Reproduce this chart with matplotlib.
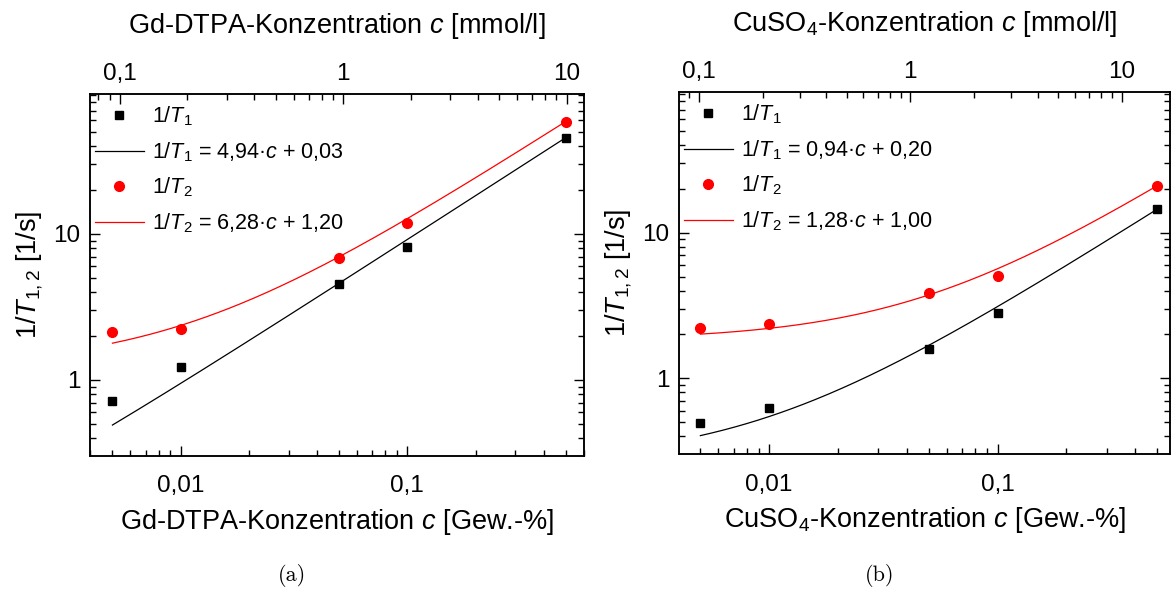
import matplotlib
matplotlib.use("Agg")
import matplotlib.pyplot as plt
import numpy as np
from matplotlib.ticker import FuncFormatter, LogLocator, NullFormatter

plt.rcParams['font.family'] = ['Liberation Sans', 'DejaVu Sans']
plt.rcParams['mathtext.fontset'] = 'custom'
plt.rcParams['mathtext.rm'] = 'Liberation Sans'
plt.rcParams['mathtext.it'] = 'Liberation Sans:italic'
plt.rcParams['mathtext.bf'] = 'Liberation Sans:bold'

# ---------------- data ----------------
conc_gew = [0.005, 0.01, 0.05, 0.1, 0.5]          # Gew.-%

gd_r1 = [0.72, 1.22, 4.55, 8.15, 45.7]             # 1/T1 [1/s]
gd_r2 = [2.14, 2.24, 6.89, 11.8, 58.7]             # 1/T2 [1/s]
cu_r1 = [0.493, 0.622, 1.60, 2.79, 14.5]
cu_r2 = [2.22, 2.35, 3.87, 5.05, 21.0]

# drawn fit curves (slope per Gew.-%, intercept), as plotted
gd_fit1 = (91.3, 0.035)
gd_fit2 = (115.4, 1.21)
cu_fit1 = (28.48, 0.262)
cu_fit2 = (38.36, 1.82)

gd_labels = ['1/$T_1$', '1/$T_1$ = 4,94·$c$ + 0,03',
             '1/$T_2$', '1/$T_2$ = 6,28·$c$ + 1,20']
cu_labels = ['1/$T_1$', '1/$T_1$ = 0,94·$c$ + 0,20',
             '1/$T_2$', '1/$T_2$ = 1,28·$c$ + 1,00']

gd_bottom_label = 'Gd-DTPA-Konzentration $c$ [Gew.-%]'
gd_top_label = 'Gd-DTPA-Konzentration $c$ [mmol/l]'
cu_bottom_label = 'CuSO$_4$-Konzentration $c$ [Gew.-%]'
cu_top_label = 'CuSO$_4$-Konzentration $c$ [mmol/l]'
ylabel = '1/$T_{1,2}$ [1/s]'

# ---------------- figure ----------------
W, H = 1171, 590
fig = plt.figure(figsize=(W / 100, H / 100), dpi=100)

FS_LAB = 19.5
FS_TICK = 17.5
LFS = 15.5


def comma_fmt(v, pos):
    s = f'{v:g}'
    return s.replace('.', ',')


def make_panel(rect, r1, r2, fit1, fit2, labels, blabel, tlabel,
               xlim, tlim, ylim, caption, cap_x):
    ax = fig.add_axes(rect)
    ax.set_xscale('log')
    ax.set_yscale('log')
    x = np.array(conc_gew)
    xf = np.geomspace(x[0], x[-1], 200)
    ax.plot(x, r1, 's', color='black', ms=6, label=labels[0], zorder=3)
    ax.plot(xf, fit1[0] * xf + fit1[1], '-', color='black', lw=0.9,
            label=labels[1])
    ax.plot(x, r2, 'o', color='#ff0000', ms=7, label=labels[2], zorder=3)
    ax.plot(xf, fit2[0] * xf + fit2[1], '-', color='#ff0000', lw=0.9,
            label=labels[3])
    ax.set_xlim(*xlim)
    ax.set_ylim(*ylim)
    for sp in ax.spines.values():
        sp.set_linewidth(1.1)
    ax.xaxis.set_major_formatter(FuncFormatter(comma_fmt))
    ax.xaxis.set_minor_formatter(NullFormatter())
    ax.yaxis.set_major_formatter(FuncFormatter(comma_fmt))
    ax.yaxis.set_minor_formatter(NullFormatter())
    ax.xaxis.set_minor_locator(LogLocator(subs=np.arange(2, 10)))
    ax.yaxis.set_minor_locator(LogLocator(subs=np.arange(2, 10)))
    ax.tick_params(which='both', direction='in', top=False, right=True,
                   labelsize=FS_TICK, width=1.0)
    ax.tick_params(which='major', length=7, pad=7)
    ax.tick_params(which='minor', length=4)
    ax.tick_params(axis='x', which='major', pad=14)
    ax.set_xlabel(blabel, fontsize=FS_LAB, labelpad=7)
    ax.set_ylabel(ylabel, fontsize=FS_LAB, labelpad=6)

    ax2 = ax.twiny()
    ax2.set_xscale('log')
    ax2.set_xlim(*tlim)
    ax2.xaxis.set_major_formatter(FuncFormatter(comma_fmt))
    ax2.xaxis.set_minor_formatter(NullFormatter())
    ax2.xaxis.set_minor_locator(LogLocator(subs=np.arange(2, 10)))
    ax2.tick_params(which='both', direction='in', labelsize=FS_TICK, width=1.0)
    ax2.tick_params(which='major', length=7, pad=7)
    ax2.tick_params(which='minor', length=4)
    ax2.set_xlabel(tlabel, fontsize=FS_LAB, labelpad=21)
    for sp in ax2.spines.values():
        sp.set_linewidth(1.1)

    ax.legend(loc='upper left', bbox_to_anchor=(-0.006, 0.992),
              frameon=False, fontsize=LFS, handlelength=2.3,
              handletextpad=0.37, labelspacing=0.55,
              borderpad=0.25, borderaxespad=0.1, numpoints=1)
    fig.text(cap_x, 0.025, caption, fontfamily='cmr10', fontsize=16,
             ha='center', va='center')
    return ax


make_panel([90 / W, 1 - 456 / H, 494 / W, 361.7 / H],
           gd_r1, gd_r2, gd_fit1, gd_fit2, gd_labels,
           gd_bottom_label, gd_top_label,
           (0.00398, 0.602), (0.0734, 11.96), (0.3016, 90.5),
           '(a)', 291.6 / W)

make_panel([679 / W, 1 - 454.3 / H, 491 / W, 362 / H],
           cu_r1, cu_r2, cu_fit1, cu_fit2, cu_labels,
           cu_bottom_label, cu_top_label,
           (0.00403, 0.569), (0.0804, 16.93), (0.301, 92.0),
           '(b)', 880 / W)

fig.savefig('out.png', dpi=100)
